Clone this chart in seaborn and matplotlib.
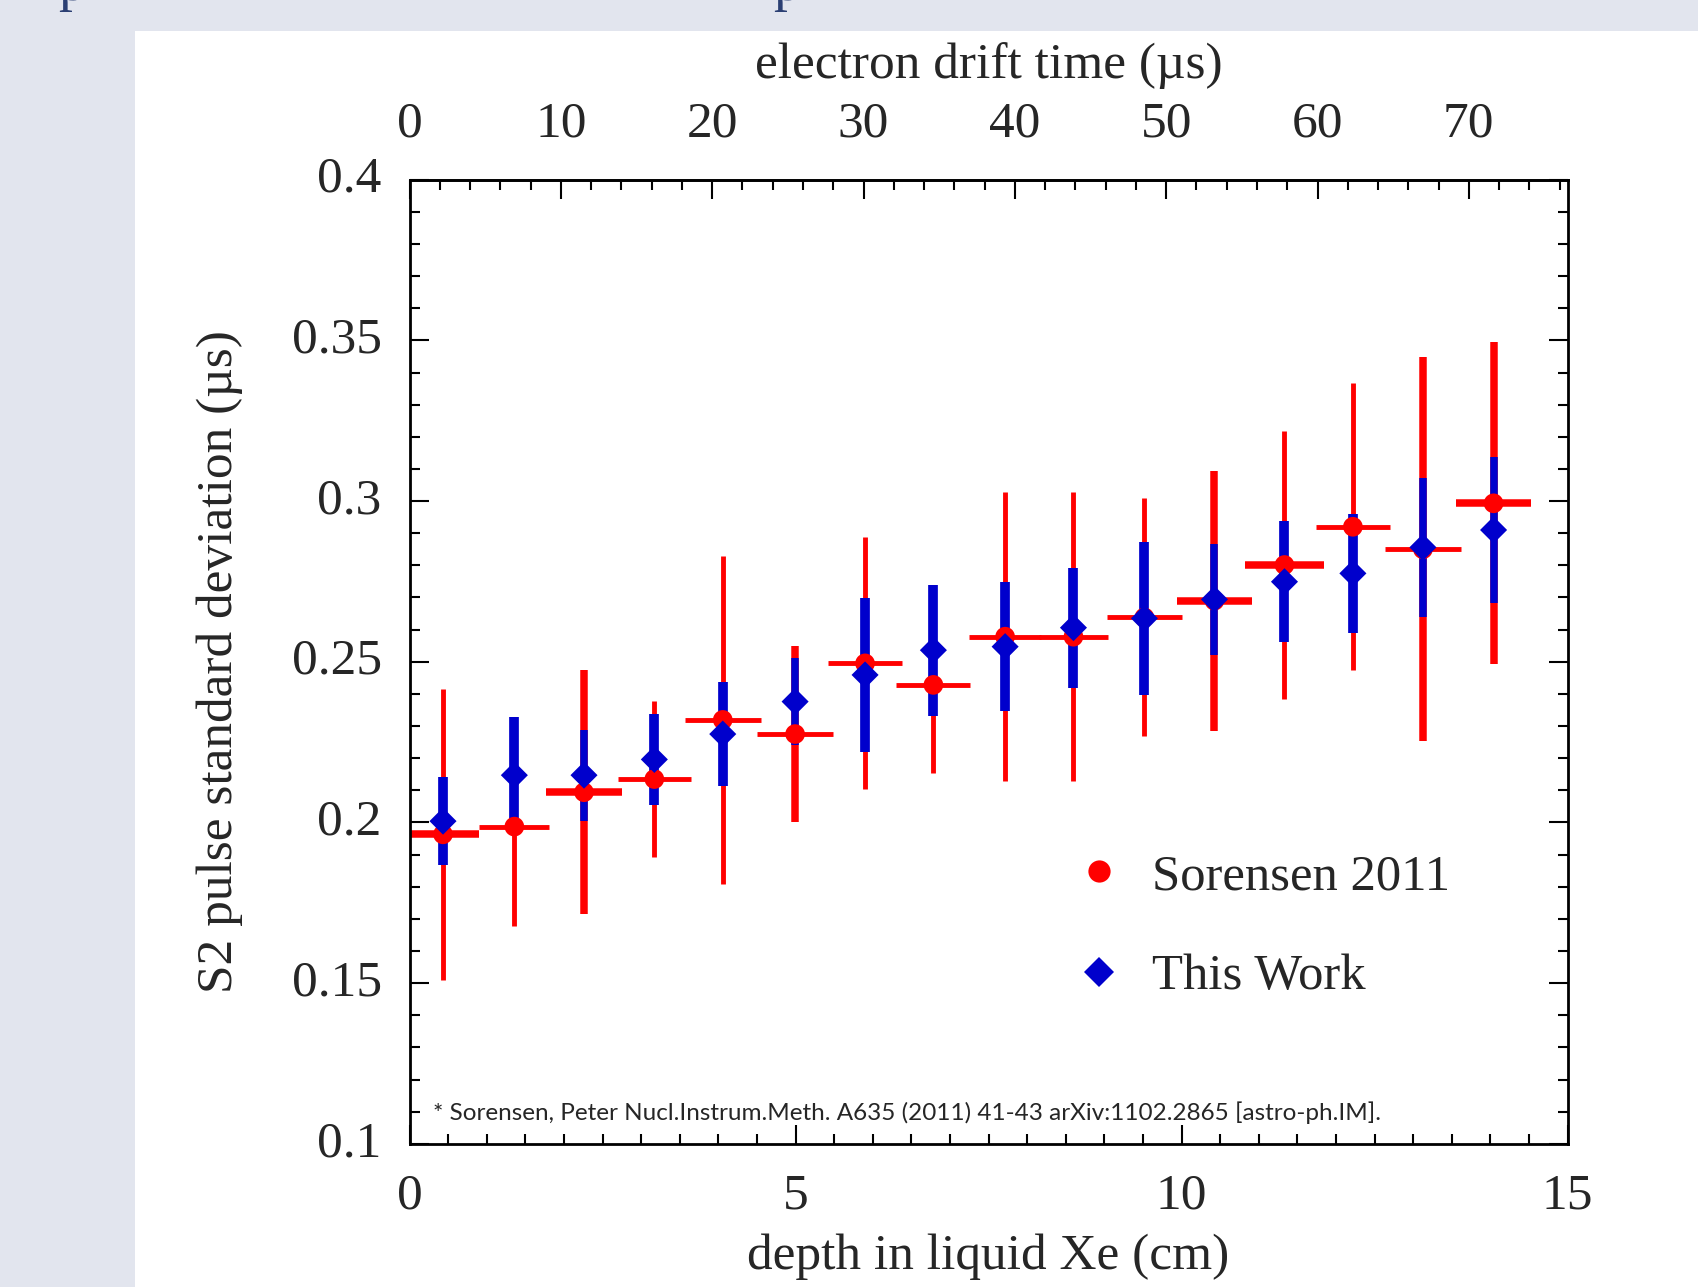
import numpy as np
import pandas as pd
import matplotlib
matplotlib.use("Agg")
import matplotlib.pyplot as plt
from matplotlib.lines import Line2D
from matplotlib.patches import Rectangle
from matplotlib.ticker import MultipleLocator
import seaborn as sns

# ---------------- data ----------------
depth_cm = [0.434, 1.358, 2.260, 3.171, 4.057, 4.994, 5.900, 6.785,
            7.714, 8.599, 9.518, 10.425, 11.332, 12.218, 13.125, 14.040]
depth_halfwidth = [0.47, 0.453, 0.49, 0.475, 0.49, 0.497, 0.476, 0.48,
                   0.47, 0.45, 0.49, 0.485, 0.51, 0.475, 0.497, 0.49]
sorensen_sigma = [0.1963, 0.1987, 0.2094, 0.2135, 0.2319, 0.2275, 0.2495, 0.2428,
                  0.2578, 0.2578, 0.2638, 0.2690, 0.2801, 0.2920, 0.2850, 0.2993]
sorensen_err = [0.0452, 0.031, 0.0379, 0.0244, 0.051, 0.0273, 0.0392, 0.0275,
                0.045, 0.045, 0.037, 0.0404, 0.0417, 0.0446, 0.0597, 0.0501]
work_sigma = [0.2004, 0.2147, 0.2147, 0.2196, 0.2275, 0.2376, 0.2459, 0.2536,
              0.2547, 0.2606, 0.2635, 0.2694, 0.2749, 0.2775, 0.2856, 0.2910]
work_err = [0.0137, 0.0182, 0.0142, 0.0142, 0.0162, 0.0135, 0.024, 0.0204,
            0.02, 0.0187, 0.0237, 0.0172, 0.0188, 0.0185, 0.0216, 0.0226]
drift_velocity = 0.196  # cm per microsecond (top axis conversion)

series_labels = ["Sorensen 2011", "This Work"]
citation = ("* Sorensen, Peter Nucl.Instrum.Meth. A635 (2011) 41-43 "
            "arXiv:1102.2865 [astro-ph.IM].")

# ---------------- styling ----------------
RED = "#FF0000"
BLUE = "#0000CC"
red_vlw = [3.5, 3.5, 5.4, 3.5, 3.5, 5.4, 3.5, 3.5, 3.5, 3.5, 3.5, 5.4, 3.5, 3.5, 5.4, 5.4]
red_hlw = [5.4, 3.5, 5.4, 3.5, 3.5, 3.5, 3.5, 3.5, 3.5, 3.5, 3.5, 5.4, 5.4, 3.5, 3.5, 5.4]
blue_vlw = [7.0, 7.0, 5.4, 7.0, 7.0, 5.4, 7.0, 7.0, 7.0, 7.0, 7.0, 5.4, 7.0, 7.0, 5.4, 5.4]

sns.set_theme(style="ticks")
plt.rcParams["font.family"] = ["Liberation Serif", "DejaVu Serif"]

FS = 37
fig = plt.figure(figsize=(16.98, 12.87), dpi=100)
fig.patch.set_facecolor("#E2E5EE")
fig.patches.append(Rectangle((135 / 1698, 0), 1 - 135 / 1698, 1 - 31 / 1287,
                             transform=fig.transFigure, facecolor="white",
                             edgecolor="none", zorder=-10))
# clipped slide-title glyphs at the top edge
for xp in (58, 773):
    fig.text(xp / 1698, 1.0, "p", fontsize=40, color="#2B3F73",
             va="baseline", ha="left", family=["Liberation Serif"])

ax = fig.add_axes([409.5 / 1698, 1 - 1143.8 / 1287,
                   (1567.7 - 409.5) / 1698, (1143.8 - 179.7) / 1287])
ax.set_zorder(5)
ax.set_facecolor("white")

df = pd.DataFrame({
    "depth": depth_cm * 2,
    "sigma": sorensen_sigma + work_sigma,
    "series": [series_labels[0]] * len(depth_cm) + [series_labels[1]] * len(depth_cm),
})

# red error bars (behind everything)
for i in range(len(depth_cm)):
    ax.errorbar(depth_cm[i], sorensen_sigma[i], yerr=sorensen_err[i], fmt="none",
                ecolor=RED, elinewidth=red_vlw[i], capsize=0, zorder=2)
    ax.errorbar(depth_cm[i], sorensen_sigma[i], xerr=depth_halfwidth[i], fmt="none",
                ecolor=RED, elinewidth=red_hlw[i], capsize=0, zorder=2)
# blue error bars
for i in range(len(depth_cm)):
    ax.errorbar(depth_cm[i], work_sigma[i], yerr=work_err[i], fmt="none",
                ecolor=BLUE, elinewidth=blue_vlw[i], capsize=0, zorder=3)

sns.scatterplot(data=df[df.series == series_labels[0]], x="depth", y="sigma",
                color=RED, marker="o", s=200, edgecolor="none", ax=ax,
                zorder=4, legend=False)
sns.scatterplot(data=df[df.series == series_labels[1]], x="depth", y="sigma",
                color=BLUE, marker="D", s=190, edgecolor="none", ax=ax,
                zorder=5, legend=False)

ax.set_xlim(0, 15)
ax.set_ylim(0.1, 0.4)
ax.xaxis.set_minor_locator(MultipleLocator(0.5))
ax.yaxis.set_minor_locator(MultipleLocator(0.01))
ax.set_xticks([0, 5, 10, 15])
ax.set_xticklabels(["0", "5", "10", "15"])
yt = [0.1, 0.15, 0.2, 0.25, 0.3, 0.35, 0.4]
ax.set_yticks(yt)
ax.set_yticklabels(["0.1", "0.15", "0.2", "0.25", "0.3", "0.35", "0.4"], va="center")

for sp in ax.spines.values():
    sp.set_visible(True)
    sp.set_linewidth(2.0)
    sp.set_color("black")

ax.tick_params(which="both", direction="in", color="black", width=1.5,
               left=True, right=True, bottom=True, top=False)
ax.tick_params(which="major", length=14)
ax.tick_params(which="minor", length=7)
ax.tick_params(axis="x", which="major", labelsize=FS, pad=21)
ax.tick_params(axis="y", which="major", labelsize=FS, pad=20)

ax.set_xlabel("depth in liquid Xe (cm)", fontsize=FS, labelpad=10)
ax.set_ylabel("S2 pulse standard deviation (\u00b5s)", fontsize=FS, labelpad=35)

sec = ax.secondary_xaxis("top", functions=(lambda x: x / drift_velocity,
                                           lambda t: t * drift_velocity))
sec.xaxis.set_major_locator(MultipleLocator(10))
sec.xaxis.set_minor_locator(MultipleLocator(2))
sec.tick_params(which="both", direction="in", color="black", width=1.5)
sec.tick_params(which="major", length=14, labelsize=FS, pad=23)
sec.tick_params(which="minor", length=7)
sec.spines["top"].set_linewidth(2.0)
sec.set_xlabel("electron drift time (\u00b5s)", fontsize=FS, labelpad=17)

ax.text(0.0203, 0.032, citation, transform=ax.transAxes, fontsize=17.5,
        family=["Lato", "DejaVu Sans"], va="center", ha="left", zorder=6)

handles = [
    Line2D([], [], ls="none", marker="o", color=RED, markersize=16, markeredgewidth=0),
    Line2D([], [], ls="none", marker="D", color=BLUE, markersize=15, markeredgewidth=0),
]
ax.legend(handles, series_labels, loc="center left",
          bbox_to_anchor=(0.5738, 0.2249), frameon=False, fontsize=36.5,
          handlelength=1.0, handletextpad=0.54, labelspacing=1.06,
          borderpad=0, borderaxespad=0)

fig.savefig("out.png", dpi=100, facecolor=fig.get_facecolor())
